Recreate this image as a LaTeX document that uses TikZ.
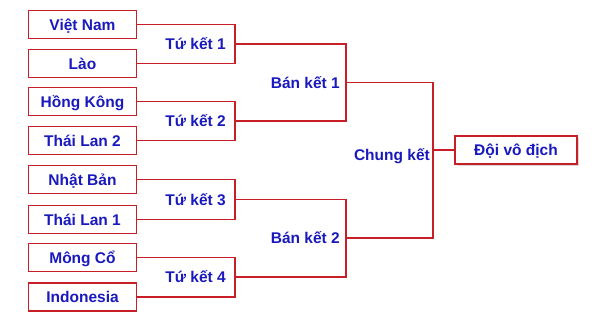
\documentclass[tikz,border=0pt]{standalone}
\usepackage{fontspec}
\setmainfont{Liberation Sans}
\usetikzlibrary{shadows}
\definecolor{boxred}{RGB}{200,30,40}
\definecolor{txtblue}{RGB}{25,25,190}
\begin{document}
\begin{tikzpicture}[x=1pt, y=-1pt,
  team/.style={draw=boxred, line width=1.2pt, minimum width=108pt, minimum height=28pt, inner sep=0pt, text height=11.1pt, text depth=0pt, font=\bfseries\fontsize{15.5}{18}\selectfont, text=txtblue},
  lbl/.style={inner sep=0pt, anchor=east, text height=11.1pt, text depth=0pt, font=\bfseries\fontsize{15.5}{18}\selectfont, text=txtblue},
  link/.style={draw=boxred, line width=1.2pt}]
\useasboundingbox (0,0) rectangle (600,325);
\node[team] (vn) at (82.5,24.5) {Việt Nam};
\node[team] (lao) at (82.5,63.5) {Lào};
\node[team] (hk) at (82.5,101.5) {Hồng Kông};
\node[team] (tl2) at (82.5,140.5) {Thái Lan 2};
\node[team] (nb) at (82.5,179.5) {Nhật Bản};
\node[team] (tl1) at (82.5,219.5) {Thái Lan 1};
\node[team] (mc) at (82.5,257.5) {Mông Cổ};
\node[team] (indo) at (82.5,297) {Indonesia};
\node[team, minimum width=122pt, drop shadow={opacity=0.3, shadow xshift=2pt, shadow yshift=-2pt}, fill=white] (win) at (516,150) {Đội vô địch\hspace{6pt}};
\coordinate (q1) at (235,44);
\coordinate (q2) at (235,121);
\coordinate (q3) at (235,199.5);
\coordinate (q4) at (235,277);
\coordinate (s1) at (346,82.5);
\coordinate (s2) at (346,238);
\coordinate (f) at (433,150);
\node[lbl] (tk1) at ([xshift=-9pt]q1) {Tứ kết 1};
\node[lbl] (tk2) at ([xshift=-9pt]q2) {Tứ kết 2};
\node[lbl] (tk3) at ([xshift=-9pt]q3) {Tứ kết 3};
\node[lbl] (tk4) at ([xshift=-9pt]q4) {Tứ kết 4};
\node[lbl] (bk1) at ([xshift=-6pt]s1) {Bán kết 1};
\node[lbl] (bk2) at ([xshift=-6pt]s2) {Bán kết 2};
\node[lbl] (ck) at ([xshift=-3pt,yshift=-5pt]f) {Chung kết};
\draw[link] (vn.east) -- (vn.east -| q1) -- (lao.east -| q1) -- (lao.east);
\draw[link] (hk.east) -- (hk.east -| q2) -- (tl2.east -| q2) -- (tl2.east);
\draw[link] (nb.east) -- (nb.east -| q3) -- (tl1.east -| q3) -- (tl1.east);
\draw[link] (mc.east) -- (mc.east -| q4) -- (indo.east -| q4) -- (indo.east);
\draw[link] (q1) -- (q1 -| s1) -- (q2 -| s1) -- (q2);
\draw[link] (q3) -- (q3 -| s2) -- (q4 -| s2) -- (q4);
\draw[link] (s1) -- (s1 -| f) -- (s2 -| f) -- (s2);
\draw[link] (f) -- (win.west);
\end{tikzpicture}
\end{document}
